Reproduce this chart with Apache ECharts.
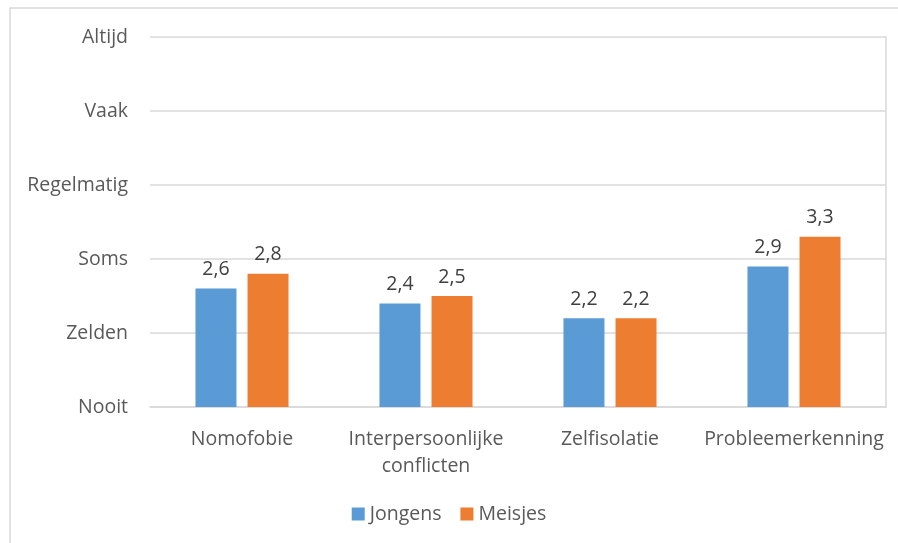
<!DOCTYPE html>
<html><head><meta charset="utf-8">
<script src="https://cdn.jsdelivr.net/npm/echarts@6/dist/echarts.min.js"></script>
<style>html,body{margin:0;padding:0;background:#fff}#c{width:898px;height:543px}</style>
</head><body><div id="c"></div>
<script>
const categories = ['Nomofobie', 'Interpersoonlijke\nconflicten', 'Zelfisolatie', 'Probleemerkenning'];
const jongens = [2.6, 2.4, 2.2, 2.9];
const meisjes = [2.8, 2.5, 2.2, 3.3];
const yLabels = ['', 'Nooit', 'Zelden', 'Soms', 'Regelmatig', 'Vaak', 'Altijd'];
const seriesNames = ['Jongens', 'Meisjes'];

const FONT = '"Open Sans", "Liberation Sans", sans-serif';
const FS = 19.5;
const chart = echarts.init(document.getElementById('c'), null, {renderer: 'canvas'});
const lbl = {
  show: true, position: 'top', distance: 9, color: '#404040', fontSize: FS, fontFamily: FONT,
  formatter: p => String(p.value).replace('.', ',')
};
chart.setOption({
  animation: false,
  backgroundColor: '#fff',
  textStyle: {fontFamily: FONT},
  graphic: [{type: 'rect', shape: {x: 10, y: 8, width: 900, height: 600}, style: {fill: 'none', stroke: '#d9d9d9', lineWidth: 1.5}, silent: true}],
  grid: {left: 150, right: 12, top: 37, bottom: 136},
  legend: {
    data: seriesNames, bottom: 14, left: 'center', itemWidth: 13, itemHeight: 13, itemGap: 19,
    icon: 'rect', textStyle: {color: '#595959', fontSize: FS, fontFamily: FONT}
  },
  xAxis: {
    type: 'category', data: categories,
    axisLine: {show: true, lineStyle: {color: '#d9d9d9', width: 1.5}},
    axisTick: {show: false},
    axisLabel: {color: '#595959', fontSize: FS, margin: 19, lineHeight: 27, fontFamily: FONT, interval: 0}
  },
  yAxis: [{
    type: 'value', min: 1, max: 6, interval: 1, startValue: 1,
    axisLine: {show: false}, axisTick: {show: false},
    splitLine: {lineStyle: {color: '#d9d9d9', width: 1.5}},
    axisLabel: {color: '#595959', fontSize: FS, margin: 22, fontFamily: FONT, formatter: v => yLabels[v] || ''}
  }, {
    type: 'value', min: 1, max: 6, interval: 1, position: 'right',
    axisLine: {show: true, lineStyle: {color: '#d9d9d9', width: 1.5}},
    axisTick: {show: false}, axisLabel: {show: false}, splitLine: {show: false}
  }],
  series: [
    {name: seriesNames[0], type: 'bar', data: jongens, barWidth: 41, barGap: '27%', itemStyle: {color: '#5B9BD5'}, label: lbl},
    {name: seriesNames[1], type: 'bar', data: meisjes, barWidth: 41, barGap: '27%', itemStyle: {color: '#ED7D31'}, label: lbl}
  ]
});
</script></body></html>
